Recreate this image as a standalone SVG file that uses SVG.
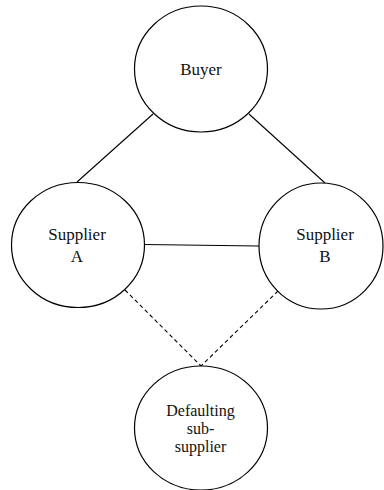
<svg xmlns="http://www.w3.org/2000/svg" width="384" height="490" viewBox="0 0 384 490">
<style>
.node{fill:#fff;stroke:#000;stroke-width:1.2}
.edge{stroke:#000;stroke-width:1.1;fill:none}
.dash{stroke-dasharray:4,3}
text{font-family:"Liberation Serif",serif !important;fill:#111;text-anchor:middle}
</style>
<rect width="384" height="490" fill="#fff"/>
<g id="connectors">
<line class="edge" x1="153" y1="114" x2="77" y2="182"/>
<line class="edge" x1="249" y1="114" x2="325" y2="183"/>
<line class="edge" x1="144" y1="244.5" x2="259" y2="246"/>
<line class="edge dash" x1="125" y1="290" x2="201" y2="366"/>
<line class="edge dash" x1="278" y1="291" x2="201" y2="366"/>
</g>
<g id="buyer">
<ellipse class="node" cx="201" cy="69" rx="66.5" ry="63"/>
<text style="font-family:'Liberation Serif',serif !important;font-size:17px" x="201" y="75">Buyer</text>
</g>
<g id="supplierA">
<ellipse class="node" cx="78" cy="245" rx="66.5" ry="62.5"/>
<text style="font-family:'Liberation Serif',serif !important;font-size:17px" x="77" y="240">Supplier</text>
<text style="font-family:'Liberation Serif',serif !important;font-size:17px" x="77" y="262">A</text>
</g>
<g id="supplierB">
<ellipse class="node" cx="321" cy="246" rx="62" ry="63"/>
<text style="font-family:'Liberation Serif',serif !important;font-size:17px" x="325" y="240">Supplier</text>
<text style="font-family:'Liberation Serif',serif !important;font-size:17px" x="325" y="262">B</text>
</g>
<g id="subsupplier">
<ellipse class="node" cx="201" cy="428" rx="66.5" ry="62"/>
<text style="font-family:'Liberation Serif',serif !important;font-size:16px" x="200.5" y="416">Defaulting</text>
<text style="font-family:'Liberation Serif',serif !important;font-size:16px" x="200.5" y="434">sub-</text>
<text style="font-family:'Liberation Serif',serif !important;font-size:16px" x="200.5" y="452">supplier</text>
</g>
</svg>
